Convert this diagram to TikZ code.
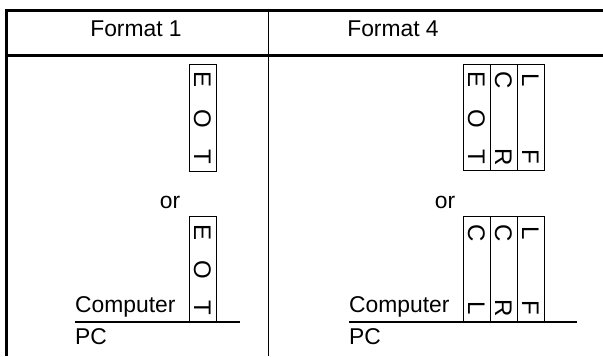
\documentclass[tikz,border=0pt]{standalone}
\usepackage{fontspec}
\setmainfont{Liberation Sans}
\usetikzlibrary{positioning}

\begin{document}
\begin{tikzpicture}[x=0.03cm,y=-0.03cm,
    txt/.style={font=\fontsize{19.5}{21}\selectfont, inner sep=0pt},
    letter/.style={font=\fontsize{20.5}{22}\selectfont, inner sep=0pt, rotate=-90},
    tape/.style={draw, line width=0.6pt},
    frame/.style={line width=2.4pt},
    base/.style={line width=1.6pt}]
    \useasboundingbox (0,0) rectangle (603,356);

    % Draw the table frame
    \draw[frame] (603,10.5) -| (6.5,356);
    \draw[frame] (6.5,55.5) -- (603,55.5);
    \draw[line width=0.6pt] (268,10.5) -- (268,356);
    \node[txt] (head1) at (136,29) {Format 1};
    \node[txt] (head4) at (393,29) {Format 4};

    % Draw Format 1
    \draw[tape] (189,64) rectangle (216,171);
    \foreach \c/\y [count=\i] in {E/80,O/119,T/157}
        \node[letter] (f1up\i) at (202.5,\y) {\c};
    \node[txt] (or1) at (170,202) {or};
    \draw[tape] (189,216) rectangle (216,322);
    \foreach \c/\y [count=\i] in {E/233,O/270,T/308}
        \node[letter] (f1lo\i) at (202.5,\y) {\c};
    \draw[base] (75,322) -- (240,322);
    \node[txt, anchor=west] (comp1) at (75,307) {Computer};
    \node[txt, anchor=west] (pc1) at (75,337) {PC};

    % Draw Format 4
    \foreach \a/\b [count=\i from 0] in {E/T,C/R,L/F} {
        \draw[tape] (463+27*\i,64) rectangle ++(27,106);
        \node[letter] (f4upa\i) at (476.5+27*\i,80) {\a};
        \node[letter] (f4upb\i) at (476.5+27*\i,157) {\b};
    }
    \node[letter] (f4upo) at (476.5,119) {O};
    \node[txt] (or4) at (445,202) {or};
    \foreach \a/\b [count=\i from 0] in {C/L,C/R,L/F} {
        \draw[tape] (463+27*\i,216) rectangle ++(27,106);
        \node[letter] (f4loa\i) at (476.5+27*\i,233) {\a};
        \node[letter] (f4lob\i) at (476.5+27*\i,308) {\b};
    }
    \draw[base] (349,322) -- (577,322);
    \node[txt, anchor=west] (comp4) at (349,307) {Computer};
    \node[txt, anchor=west] (pc4) at (349,337) {PC};
\end{tikzpicture}
\end{document}
